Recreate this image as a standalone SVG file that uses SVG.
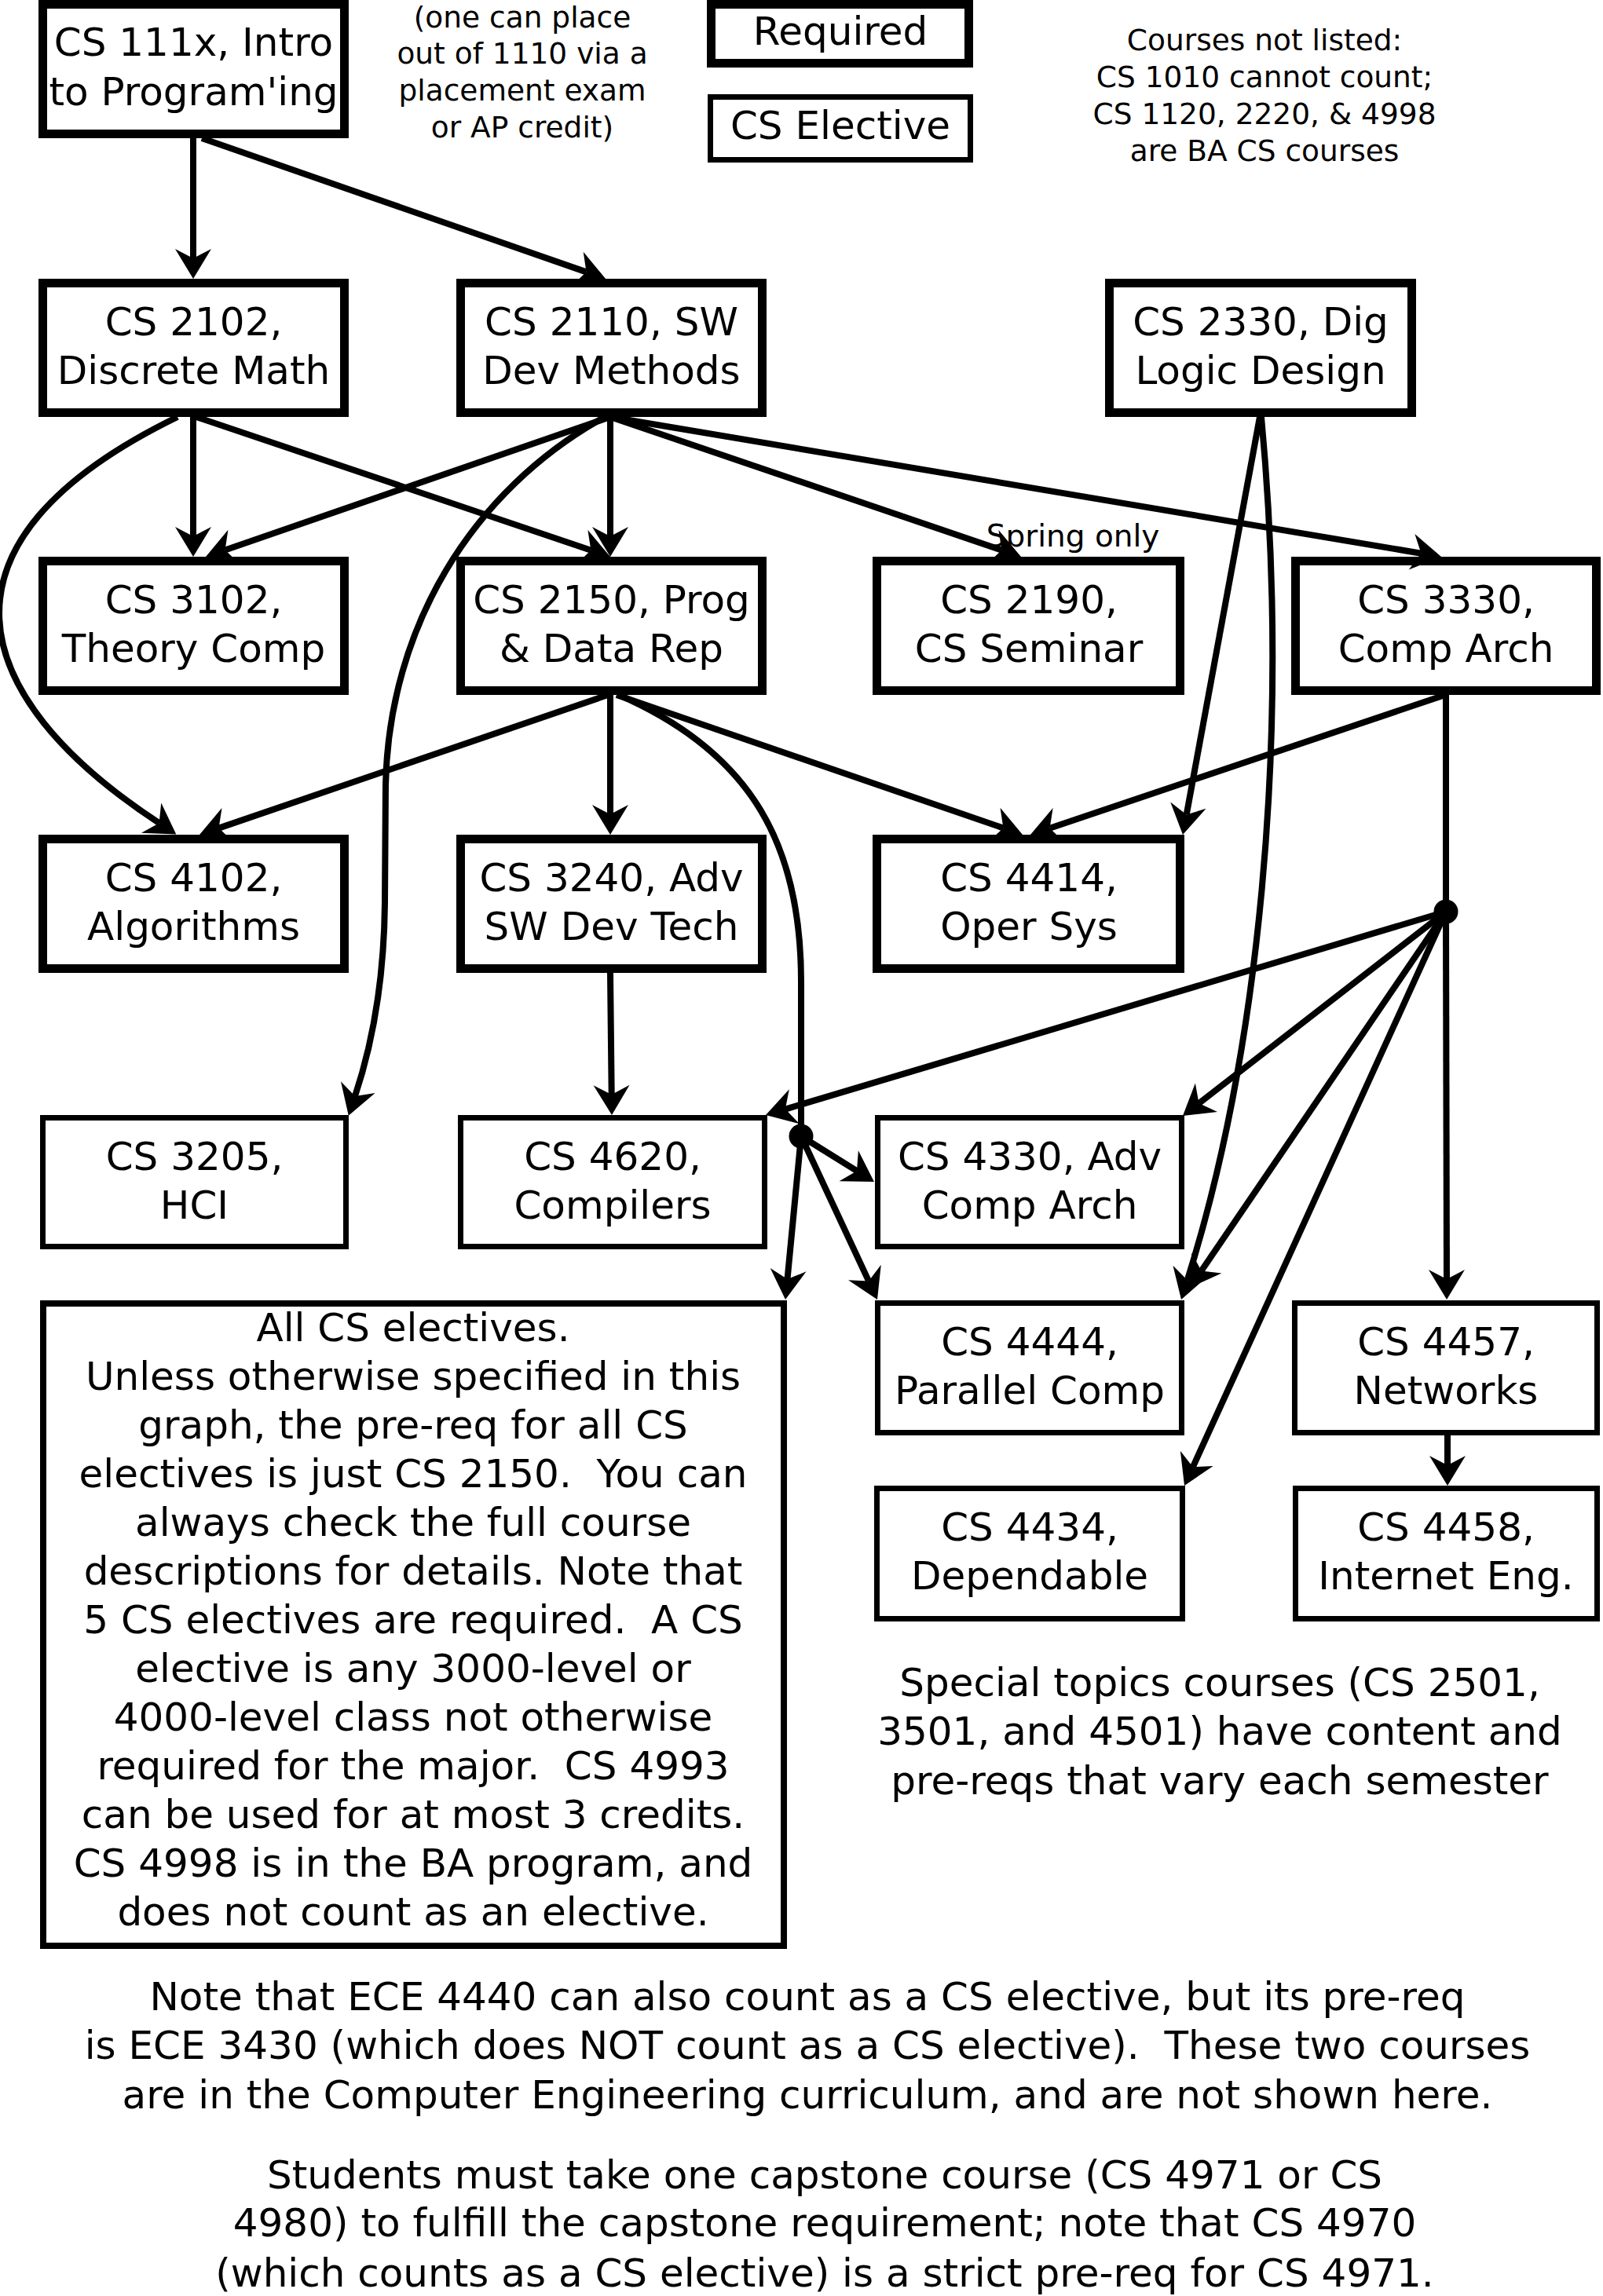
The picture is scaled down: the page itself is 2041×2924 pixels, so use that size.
<svg xmlns="http://www.w3.org/2000/svg" width="2041" height="2924" viewBox="0 0 2041 2924">
<style>
text { font-family: "DejaVu Sans", "Liberation Sans", sans-serif; font-size: 50px; text-anchor: middle; white-space: pre; fill: #000; }
.s { font-size: 37.5px; }
.sp { font-size: 39px; }
.thick { fill: #fff; stroke: #000; stroke-width: 11; }
.thin { fill: #fff; stroke: #000; stroke-width: 7; }
.big { fill: #fff; stroke: #000; stroke-width: 8; }
.c { fill: none; stroke: #000; stroke-width: 8; }
.a { marker-end: url(#ah); }
.dot { fill: #000; }
</style>
<defs>
<marker id="ah" markerUnits="userSpaceOnUse" viewBox="-15 -25 45 50" markerWidth="45" markerHeight="50" refX="0" refY="0" orient="auto">
<path d="M26,0 L-12,-23 L0,0 L-12,23 Z" fill="#000"/>
</marker>
</defs>
<rect width="2041" height="2924" fill="#fff"/>

<g id="nodes">
<g id="cs111x"><rect class="thick" x="54.5" y="5.5" width="384" height="165"/><text x="246.5" y="71">CS 111x, Intro</text><text x="246.5" y="134">to Program'ing</text></g>
<g id="legend-required"><rect class="thick" x="905.5" y="5.5" width="328" height="75"/><text x="1070" y="57">Required</text></g>
<g id="legend-elective"><rect class="thin" x="904.5" y="123.5" width="331" height="80"/><text x="1070" y="177">CS Elective</text></g>
<g id="cs2102"><rect class="thick" x="54.5" y="360.5" width="384" height="165"/><text x="246.5" y="427">CS 2102,</text><text x="246.5" y="489">Discrete Math</text></g>
<g id="cs2110"><rect class="thick" x="586.5" y="360.5" width="384" height="165"/><text x="778.5" y="427">CS 2110, SW</text><text x="778.5" y="489">Dev Methods</text></g>
<g id="cs2330"><rect class="thick" x="1412.5" y="360.5" width="385" height="165"/><text x="1605" y="427">CS 2330, Dig</text><text x="1605" y="489">Logic Design</text></g>
<g id="cs3102"><rect class="thick" x="54.5" y="714.5" width="384" height="165"/><text x="246.5" y="781">CS 3102,</text><text x="246.5" y="843">Theory Comp</text></g>
<g id="cs2150"><rect class="thick" x="586.5" y="714.5" width="384" height="165"/><text x="778.5" y="781">CS 2150, Prog</text><text x="778.5" y="843">&amp; Data Rep</text></g>
<g id="cs2190"><rect class="thick" x="1116.5" y="714.5" width="386" height="165"/><text x="1310" y="781">CS 2190,</text><text x="1310" y="843">CS Seminar</text></g>
<g id="cs3330"><rect class="thick" x="1649.5" y="714.5" width="383" height="165"/><text x="1841" y="781">CS 3330,</text><text x="1841" y="843">Comp Arch</text></g>
<g id="cs4102"><rect class="thick" x="54.5" y="1068.5" width="384" height="165"/><text x="246.5" y="1135">CS 4102,</text><text x="246.5" y="1197">Algorithms</text></g>
<g id="cs3240"><rect class="thick" x="586.5" y="1068.5" width="384" height="165"/><text x="778.5" y="1135">CS 3240, Adv</text><text x="778.5" y="1197">SW Dev Tech</text></g>
<g id="cs4414"><rect class="thick" x="1116.5" y="1068.5" width="386" height="165"/><text x="1310" y="1135">CS 4414,</text><text x="1310" y="1197">Oper Sys</text></g>
<g id="cs3205"><rect class="thin" x="54.5" y="1423.5" width="386" height="164"/><text x="247.5" y="1490">CS 3205,</text><text x="247.5" y="1552">HCI</text></g>
<g id="cs4620"><rect class="thin" x="586.5" y="1423.5" width="387" height="164"/><text x="780" y="1490">CS 4620,</text><text x="780" y="1552">Compilers</text></g>
<g id="cs4330"><rect class="thin" x="1117.5" y="1423.5" width="387" height="164"/><text x="1311" y="1490">CS 4330, Adv</text><text x="1311" y="1552">Comp Arch</text></g>
<g id="cs4444"><rect class="thin" x="1117.5" y="1659.5" width="387" height="165"/><text x="1311" y="1726">CS 4444,</text><text x="1311" y="1788">Parallel Comp</text></g>
<g id="cs4457"><rect class="thin" x="1648.5" y="1659.5" width="385" height="165"/><text x="1841" y="1726">CS 4457,</text><text x="1841" y="1788">Networks</text></g>
<g id="cs4434"><rect class="thin" x="1116.5" y="1895.5" width="389" height="166"/><text x="1311" y="1962">CS 4434,</text><text x="1311" y="2024">Dependable</text></g>
<g id="cs4458"><rect class="thin" x="1649.5" y="1895.5" width="384" height="166"/><text x="1841" y="1962">CS 4458,</text><text x="1841" y="2024">Internet Eng.</text></g>
<g id="all-electives"><rect class="big" x="55" y="1660" width="943" height="818"/>
<text x="526" y="1708">All CS electives.</text>
<text x="526" y="1770">Unless otherwise specified in this</text>
<text x="526" y="1832">graph, the pre-req for all CS</text>
<text x="526" y="1894">electives is just CS 2150.  You can</text>
<text x="526" y="1956">always check the full course</text>
<text x="526" y="2018">descriptions for details. Note that</text>
<text x="526" y="2080">5 CS electives are required.  A CS</text>
<text x="526" y="2142">elective is any 3000-level or</text>
<text x="526" y="2204">4000-level class not otherwise</text>
<text x="526" y="2266">required for the major.  CS 4993</text>
<text x="526" y="2328">can be used for at most 3 credits.</text>
<text x="526" y="2390">CS 4998 is in the BA program, and</text>
<text x="526" y="2452">does not count as an elective.</text>
</g>
</g>

<g id="notes">
<text class="s" x="665" y="35">(one can place</text>
<text class="s" x="665" y="81">out of 1110 via a</text>
<text class="s" x="665" y="128">placement exam</text>
<text class="s" x="665" y="175">or AP credit)</text>
<text class="s" x="1610" y="64">Courses not listed:</text>
<text class="s" x="1610" y="111">CS 1010 cannot count;</text>
<text class="s" x="1610" y="158">CS 1120, 2220, &amp; 4998</text>
<text class="s" x="1610" y="205">are BA CS courses</text>
<text class="sp" x="1366" y="696">Spring only</text>
<text x="1553" y="2160">Special topics courses (CS 2501,</text>
<text x="1553" y="2222">3501, and 4501) have content and</text>
<text x="1553" y="2285">pre-reqs that vary each semester</text>
<text x="1028" y="2560">Note that ECE 4440 can also count as a CS elective, but its pre-req</text>
<text x="1028" y="2622">is ECE 3430 (which does NOT count as a CS elective).  These two courses</text>
<text x="1028" y="2685">are in the Computer Engineering curriculum, and are not shown here.</text>
<text x="1050" y="2787">Students must take one capstone course (CS 4971 or CS</text>
<text x="1050" y="2848">4980) to fulfill the capstone requirement; note that CS 4970</text>
<text x="1050" y="2912">(which counts as a CS elective) is a strict pre-req for CS 4971.</text>
</g>

<g id="connectors">
<path class="c a" d="M246,176 L246,329"/>
<path class="c a" d="M257,176 L746.5,346.4"/>
<path class="c a" d="M246,531 L246,683"/>
<path class="c a" d="M250,531 L752.4,700.7"/>
<path class="c a" d="M226,531 C-100,690 -45,885 202.6,1048.2"/>
<path class="c a" d="M777,531 L286.6,700.5"/>
<path class="c a" d="M777,531 L777,683"/>
<path class="c a" d="M770,531 C600,625 495,800 491,1000 L490,1150 C489,1250 474,1330 452,1396"/>
<path class="c a" d="M777,531 L1275.4,700.6"/>
<path class="c a" d="M777,531 L1809.4,704.7"/>
<path class="c a" d="M774,885 L278.6,1054.6"/>
<path class="c a" d="M777,885 L777,1037"/>
<path class="c a" d="M785,885 L1277.4,1054.5"/>
<path class="c" d="M788,885 C960,960 1020,1080 1020,1250 L1020,1447"/>
<path class="c a" d="M777,1239 L778.7,1394"/>
<path class="c a" d="M1604,531 L1510.7,1037.4"/>
<path class="c a" d="M1606,531 C1645,950 1600,1350 1511.8,1630.2"/>
<path class="c a" d="M1840,885 L1336.6,1054.7"/>
<path class="c" d="M1841,885 L1841,1161"/>
<path class="c a" d="M1841,1161 L999.9,1412.6"/>
<path class="c a" d="M1841,1161 L1526.5,1405.1"/>
<path class="c a" d="M1841,1161 L1529.6,1618.5"/>
<path class="c a" d="M1841,1161 L1518.8,1868.3"/>
<path class="c a" d="M1841,1161 L1842,1629"/>
<path class="c a" d="M1843,1828 L1843,1866"/>
<path class="c a" d="M1020,1447 L1090.9,1491.2"/>
<path class="c a" d="M1020,1447 L1106,1631.4"/>
<path class="c a" d="M1020,1447 L1002.5,1629.1"/>
<circle class="dot" cx="1020" cy="1447" r="15.5"/>
<circle class="dot" cx="1841" cy="1161" r="15.5"/>
</g>
</svg>
